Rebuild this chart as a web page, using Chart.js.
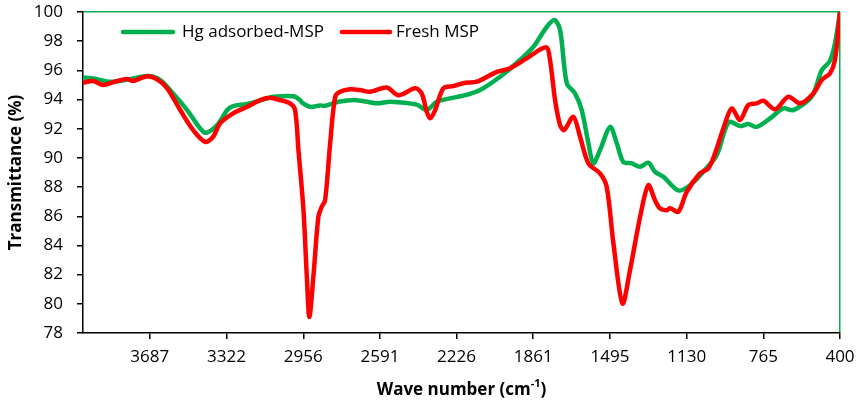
<!DOCTYPE html>
<html>
<head>
<meta charset="utf-8">
<script src="https://cdn.jsdelivr.net/npm/chart.js@4.4.1/dist/chart.umd.min.js"></script>
<style>
  html, body { margin: 0; padding: 0; background: #fff; }
  #wrap { width: 858px; height: 402px; position: relative; }
</style>
</head>
<body>
<div id="wrap"><canvas id="myChart"></canvas></div>
<script>
// Hg adsorbed-MSP spectrum (wave number, transmittance %)
const hgWavenumber = [4005, 3956, 3876, 3780, 3695, 3637, 3576, 3509, 3447, 3418, 3366, 3318, 3290, 3223, 3128, 3099,
    3003, 2971, 2963, 2923, 2876, 2852, 2789, 2701, 2604, 2542, 2415, 2368, 2320, 2257, 2185, 2114, 2019, 1924, 1860,
    1796, 1760, 1733, 1701, 1662, 1630, 1598, 1575, 1543, 1495, 1463, 1432, 1392, 1352, 1313, 1281, 1241, 1170, 1114,
    1051, 987, 930, 876, 837, 797, 733, 670, 622, 535, 487, 448, 424, 400];
const hgTransmittance = [95.52, 95.45, 95.22, 95.40, 95.62, 95.34, 94.42, 93.28, 92.02, 91.72, 92.25, 93.28, 93.55, 93.70, 94.08, 94.19,
    94.22, 93.96, 93.80, 93.50, 93.60, 93.57, 93.85, 93.96, 93.74, 93.85, 93.65, 93.28, 93.85, 94.08, 94.30, 94.65, 95.56, 96.71, 97.62,
    98.99, 99.45, 98.77, 95.11, 94.42, 93.28, 91.00, 89.62, 90.53, 92.13, 91.00, 89.73, 89.62, 89.39, 89.67, 89.05, 88.71, 87.77, 88.13,
    89.05, 90.19, 92.45, 92.18, 92.32, 92.13, 92.71, 93.39, 93.28, 94.20, 96.00, 96.65, 97.85, 100];

// Fresh MSP spectrum
const freshWavenumber = [4005, 3956, 3909, 3842, 3795, 3766, 3699, 3652, 3604, 3542, 3480, 3423, 3385, 3352, 3290, 3223,
    3161, 3114, 3066, 3019, 2995, 2979, 2955, 2939, 2927, 2908, 2884, 2868, 2852, 2828, 2804, 2781, 2733, 2685, 2638,
    2558, 2503, 2423, 2392, 2368, 2352, 2328, 2289, 2241, 2185, 2130, 2034, 1971, 1892, 1800, 1781, 1757, 1733, 1714,
    1670, 1638, 1598, 1543, 1511, 1479, 1436, 1400, 1352, 1313, 1281, 1257, 1225, 1209, 1170, 1130, 1067, 1027, 995,
    956, 916, 876, 837, 797, 765, 709, 646, 590, 527, 487, 448, 424, 400];
const freshTransmittance = [95.15, 95.27, 95.00, 95.27, 95.40, 95.27, 95.60, 95.38, 94.77, 93.28, 91.90, 91.10, 91.45, 92.37, 93.05, 93.50,
    93.96, 94.12, 93.96, 93.74, 93.28, 90.53, 86.40, 81.85, 79.10, 81.85, 85.96, 86.65, 87.10, 91.00, 94.19, 94.53, 94.70, 94.65, 94.53,
    94.83, 94.30, 94.77, 94.42, 93.16, 92.71, 93.28, 94.77, 94.92, 95.15, 95.22, 95.90, 96.14, 96.82, 97.58, 96.71, 93.96, 92.25, 91.90,
    92.82, 91.45, 89.62, 88.94, 88.02, 84.14, 80.02, 82.30, 85.96, 88.13, 87.10, 86.53, 86.42, 86.56, 86.30, 87.67, 88.94, 89.28, 90.31,
    92.00, 93.39, 92.60, 93.62, 93.74, 93.92, 93.33, 94.19, 93.74, 94.42, 95.34, 95.79, 96.71, 100];

const xTickLabels = [400, 765, 1130, 1495, 1861, 2226, 2591, 2956, 3322, 3687];
const yMin = 78;
const yMax = 100;
const yStep = 2;

const seriesNames = ['Hg adsorbed-MSP', 'Fresh MSP'];
const GREEN = '#00B050';
const RED = '#FF0000';
const FONT = '"Open Sans", "Liberation Sans", sans-serif';

function toPoints(xs, ys) {
    return xs.map((x, i) => ({ x: x, y: ys[i] }));
}

// legend inside the plot and x title with superscript
const extrasPlugin = {
    id: 'extras',
    afterDraw(chart) {
        const ctx = chart.ctx;
        const area = chart.chartArea;
        ctx.save();

        const legendY = 32;
        const items = [
            { color: GREEN, x0: 123, x1: 173, tx: 182, text: seriesNames[0] },
            { color: RED, x0: 342, x1: 390, tx: 396, text: seriesNames[1] }
        ];
        ctx.font = '17px ' + FONT;
        ctx.textBaseline = 'middle';
        ctx.textAlign = 'left';
        items.forEach(item => {
            ctx.strokeStyle = item.color;
            ctx.lineWidth = 4.5;
            ctx.lineCap = 'round';
            ctx.beginPath();
            ctx.moveTo(item.x0, legendY);
            ctx.lineTo(item.x1, legendY);
            ctx.stroke();
            ctx.fillStyle = '#000';
            ctx.fillText(item.text, item.tx, legendY);
        });

        // x axis title: Wave number (cm-1)
        const mainFont = 'bold 17px ' + FONT;
        const supFont = 'bold 11px ' + FONT;
        const part1 = 'Wave number (cm';
        const sup = '-1';
        const part2 = ')';
        ctx.font = mainFont;
        const w1 = ctx.measureText(part1).width;
        const w3 = ctx.measureText(part2).width;
        ctx.font = supFont;
        const w2 = ctx.measureText(sup).width;
        const total = w1 + w2 + w3;
        let x = (area.left + area.right) / 2 - total / 2;
        const y = 390;
        ctx.fillStyle = '#000';
        ctx.textBaseline = 'middle';
        ctx.font = mainFont;
        ctx.fillText(part1, x, y);
        x += w1;
        ctx.font = supFont;
        ctx.fillText(sup, x, y - 6);
        x += w2;
        ctx.font = mainFont;
        ctx.fillText(part2, x, y);

        ctx.restore();
    }
};

const ctx = document.getElementById('myChart').getContext('2d');
const myChart = new Chart(ctx, {
    type: 'line',
    data: {
        datasets: [
            {
                label: seriesNames[0],
                data: toPoints(hgWavenumber, hgTransmittance),
                borderColor: GREEN,
                borderWidth: 4.5,
                pointRadius: 0,
                tension: 0.3,
                fill: false,
                order: 1
            },
            {
                label: seriesNames[1],
                data: toPoints(freshWavenumber, freshTransmittance),
                borderColor: RED,
                borderWidth: 4.5,
                pointRadius: 0,
                tension: 0.3,
                fill: false,
                order: 0
            }
        ]
    },
    options: {
        responsive: true,
        maintainAspectRatio: false,
        animation: false,
        layout: {
            padding: { top: 12, right: 18, left: 0, bottom: 0 }
        },
        plugins: {
            legend: { display: false },
            tooltip: { enabled: false }
        },
        scales: {
            x: {
                type: 'linear',
                reverse: true,
                min: 400,
                max: 4005,
                afterBuildTicks: function (scale) {
                    scale.ticks = xTickLabels.map(v => ({ value: v }));
                },
                afterFit: function (scale) {
                    scale.height = 69;
                    scale.paddingLeft = 0;
                    scale.paddingRight = 0;
                },
                ticks: {
                    autoSkip: false,
                    maxRotation: 0,
                    padding: 8,
                    color: '#000',
                    font: { family: FONT, size: 17 },
                    callback: value => String(value)
                },
                grid: {
                    color: c => (c.tick && c.tick.value === 400 ? GREEN : 'rgba(0,0,0,0)'),
                    lineWidth: 1.5,
                    tickColor: '#000',
                    tickLength: 6,
                    drawTicks: true
                },
                border: { color: '#000', width: 1.5 }
            },
            y: {
                min: yMin,
                max: yMax,
                afterFit: function (scale) {
                    scale.width = 83;
                    scale.paddingTop = 0;
                    scale.paddingBottom = 0;
                },
                ticks: {
                    stepSize: yStep,
                    padding: 14,
                    color: '#000',
                    font: { family: FONT, size: 17 }
                },
                grid: {
                    color: c => (c.tick && c.tick.value === yMax ? GREEN : 'rgba(0,0,0,0)'),
                    lineWidth: 1.5,
                    tickColor: '#000',
                    tickLength: 6,
                    drawTicks: true
                },
                border: { color: '#000', width: 1.5 },
                title: {
                    display: true,
                    text: 'Transmittance (%)',
                    color: '#000',
                    font: { family: FONT, size: 17, weight: 'bold' },
                    padding: { top: 6, bottom: 0 }
                }
            }
        }
    },
    plugins: [extrasPlugin]
});
</script>
</body>
</html>
